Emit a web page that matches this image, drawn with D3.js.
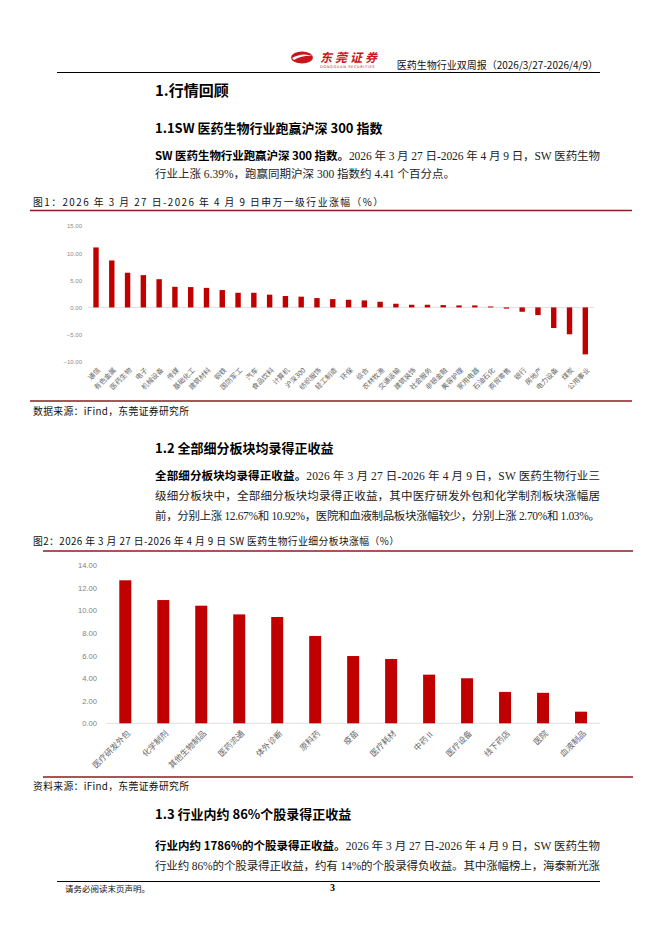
<!DOCTYPE html>
<html><head><meta charset="utf-8">
<script src="https://cdn.jsdelivr.net/npm/d3@7/dist/d3.min.js"></script>
<style>body{margin:0;background:#fff}svg{display:block}</style>
</head><body>
<svg id="page" width="662" height="936"></svg>
<script>
// ---------- data ----------
const industries = ["通信","有色金属","医药生物","电子","机械设备","传媒","基础化工","建筑材料","钢铁","国防军工","汽车","食品饮料","计算机","沪深300","纺织服饰","轻工制造","环保","综合","农林牧渔","交通运输","建筑装饰","社会服务","非银金融","美容护理","家用电器","石油石化","商贸零售","银行","房地产","电力设备","煤炭","公用事业"];
const industryChanges = [11.05,8.65,6.39,5.95,5.2,3.8,3.75,3.6,3.2,2.7,2.7,2.35,2.1,1.98,1.72,1.53,1.41,1.29,1.04,0.68,0.49,0.49,0.43,0.37,0.37,0.18,-0.22,-0.8,-1.41,-3.8,-4.95,-8.65];
const yTicks1 = [15,10,5,0,-5,-10];

const segments = ["医疗研发外包","化学制剂","其他生物制品","医药流通","体外诊断","原料药","疫苗","医疗耗材","中药Ⅱ","医疗设备","线下药店","医院","血液制品"];
const segmentChanges = [12.67,10.92,10.42,9.65,9.42,7.74,5.96,5.70,4.31,3.99,2.78,2.70,1.03];
const yTicks2 = [0,2,4,6,8,10,12,14];

const svg = d3.select("#page");
const SANS = "'Noto Sans CJK SC','Noto Sans',sans-serif";
const SERIF = "'Liberation Serif','Noto Sans CJK SC',serif";
const DARKRED = "#8c1c20";
const BAR = "#c00000";

// ---------- header ----------
const logo = svg.append("g");
logo.append("ellipse").attr("cx",302).attr("cy",57.5).attr("rx",11).attr("ry",6).attr("fill","#c8161d");
logo.append("path").attr("d","M292,58 Q302,52 313,56 Q303,55 294,60 Z").attr("fill","#fff");
logo.append("text").attr("x",320).attr("y",62).text("东莞证券")
  .attr("font-family",SANS).attr("font-weight",700).attr("font-size",12).attr("font-style","italic")
  .attr("letter-spacing",3).attr("fill","#c8161d");
logo.append("text").attr("x",320).attr("y",68).text("DONGGUAN SECURITIES")
  .attr("font-family","'DejaVu Sans'").attr("font-size",3.6).attr("letter-spacing",0.6).attr("fill","#c8161d");
svg.append("text").attr("x",598).attr("y",69).attr("text-anchor","end")
  .text("医药生物行业双周报（2026/3/27-2026/4/9）")
  .attr("font-family",SANS).attr("font-size",10).attr("fill","#111");
svg.append("line").attr("x1",57).attr("x2",600).attr("y1",72.5).attr("y2",72.5).attr("stroke","#000").attr("stroke-width",1);

// ---------- text helpers ----------
function fit(t,n,target){
  if(!target) return;
  const w = t.node().getComputedTextLength();
  t.attr("letter-spacing",(target-w)/(n-1));
}
function heading(x,y,t,size){
  svg.append("text").attr("x",x).attr("y",y).text(t)
    .attr("font-family",SANS).attr("font-weight",700).attr("font-size",size).attr("fill","#000");
}
function para(x,y,parts,target){
  const t = svg.append("text").attr("x",x).attr("y",y).attr("font-size",11.5).attr("fill","#222");
  let n=0;
  parts.forEach(p=>{
    t.append("tspan").text(p[0])
      .attr("font-family",p[1]?SANS:SERIF)
      .attr("font-weight",p[1]?700:400)
      .attr("fill",p[1]?"#000":"#222");
    n += [...p[0]].length;
  });
  fit(t,n,target);
}
function small(x,y,s,target){
  const t = svg.append("text").attr("x",x).attr("y",y).text(s)
    .attr("font-family",SANS).attr("font-size",9.8).attr("fill","#111");
  fit(t,[...s].length,target);
}

heading(155,96,"1.行情回顾",15);
heading(155,133,"1.1SW 医药生物行业跑赢沪深 300 指数",13);
para(155,160,[["SW 医药生物行业跑赢沪深 300 指数。",true],["2026 年 3 月 27 日-2026 年 4 月 9 日，SW 医药生物",false]],445);
para(155,178,[["行业上涨 6.39%，跑赢同期沪深 300 指数约 4.41 个百分点。",false]]);

small(33,206,"图1：2026 年 3 月 27 日-2026 年 4 月 9 日申万一级行业涨幅（%）",350);
svg.append("line").attr("x1",30).attr("x2",632).attr("y1",210.5).attr("y2",210.5).attr("stroke",DARKRED).attr("stroke-width",1.5);

// ---------- chart 1 ----------
const y1 = d3.scaleLinear().domain([-10,15]).range([361.7,226]);
const x1 = d3.scalePoint().domain(industries).range([96,585.3]);
const g1 = svg.append("g");
g1.append("line").attr("x1",88).attr("x2",594).attr("y1",y1(0)).attr("y2",y1(0)).attr("stroke","#e0d6d6").attr("stroke-width",0.8);
const ax1 = g1.append("g").attr("transform","translate(84,0)")
  .call(d3.axisLeft(y1).tickValues(yTicks1).tickFormat(d3.format(".2f")).tickSize(0).tickPadding(2));
ax1.select(".domain").remove();
ax1.selectAll("text").attr("font-family","'Liberation Sans',sans-serif").attr("font-size",6).attr("fill","#8a8a8a");
g1.selectAll("rect.bar").data(industries).join("rect").attr("class","bar")
  .attr("x",d=>x1(d)-2.7).attr("width",5.4)
  .attr("y",(d,i)=>y1(Math.max(0,industryChanges[i])))
  .attr("height",(d,i)=>Math.abs(y1(industryChanges[i])-y1(0)))
  .attr("fill",BAR);
const xa1 = g1.append("g").attr("transform","translate(0,366)").call(d3.axisBottom(x1).tickSize(0).tickPadding(0));
xa1.select(".domain").remove();
xa1.selectAll("text").attr("font-family",SANS).attr("font-size",6.9).attr("fill","#666")
  .attr("text-anchor","end").attr("dy","0.35em").attr("y",0)
  .attr("transform","translate(2.5,3) rotate(-45)");

svg.append("line").attr("x1",30).attr("x2",632).attr("y1",401).attr("y2",401).attr("stroke",DARKRED).attr("stroke-width",1.5);
small(33,415,"数据来源：iFind，东莞证券研究所",156);

heading(155,453,"1.2 全部细分板块均录得正收益",13);
para(155,480,[["全部细分板块均录得正收益。",true],["2026 年 3 月 27 日-2026 年 4 月 9 日，SW 医药生物行业三",false]],445);
para(155,500,[["级细分板块中，全部细分板块均录得正收益，其中医疗研发外包和化学制剂板块涨幅居",false]],445);
para(155,520,[["前，分别上涨 12.67%和 10.92%，医院和血液制品板块涨幅较少，分别上涨 2.70%和 1.03%。",false]],445);

small(33,545,"图2：2026 年 3 月 27 日-2026 年 4 月 9 日 SW 医药生物行业细分板块涨幅（%）",366);
svg.append("line").attr("x1",43).attr("x2",633).attr("y1",551).attr("y2",551).attr("stroke",DARKRED).attr("stroke-width",1.5);

// ---------- chart 2 ----------
const y2 = d3.scaleLinear().domain([0,14]).range([723.3,565.3]);
const x2 = d3.scalePoint().domain(segments).range([125.3,581]);
const g2 = svg.append("g");
g2.append("line").attr("x1",106).attr("x2",600).attr("y1",y2(0)).attr("y2",y2(0)).attr("stroke","#d9d9d9").attr("stroke-width",0.8);
const ax2 = g2.append("g").attr("transform","translate(99,0)")
  .call(d3.axisLeft(y2).tickValues(yTicks2).tickFormat(d3.format(".2f")).tickSize(0).tickPadding(2));
ax2.select(".domain").remove();
ax2.selectAll("text").attr("font-family","'Liberation Sans',sans-serif").attr("font-size",7.6).attr("fill","#7f7f7f");
g2.selectAll("rect.bar").data(segments).join("rect").attr("class","bar")
  .attr("x",d=>x2(d)-6).attr("width",12)
  .attr("y",(d,i)=>y2(segmentChanges[i]))
  .attr("height",(d,i)=>y2(0)-y2(segmentChanges[i]))
  .attr("fill",BAR);
const xa2 = g2.append("g").attr("transform","translate(0,729)").call(d3.axisBottom(x2).tickSize(0).tickPadding(0));
xa2.select(".domain").remove();
xa2.selectAll("text").attr("font-family",SANS).attr("font-size",8.2).attr("fill","#666")
  .attr("text-anchor","end").attr("dy","0.35em").attr("y",0)
  .attr("transform","translate(3,3) rotate(-45)");

svg.append("line").attr("x1",43).attr("x2",633).attr("y1",777).attr("y2",777).attr("stroke",DARKRED).attr("stroke-width",1.5);
small(33,790,"资料来源：iFind，东莞证券研究所",156);

heading(155,819,"1.3 行业内约 86%个股录得正收益",13);
para(155,850,[["行业内约 1786%的个股录得正收益。",true],["2026 年 3 月 27 日-2026 年 4 月 9 日，SW 医药生物",false]],445);
para(155,870,[["行业约 86%的个股录得正收益，约有 14%的个股录得负收益。其中涨幅榜上，海泰新光涨",false]],445);

// ---------- footer ----------
svg.append("line").attr("x1",57).attr("x2",600).attr("y1",881.5).attr("y2",881.5).attr("stroke","#000").attr("stroke-width",1.2);
svg.append("text").attr("x",65).attr("y",892).text("请务必阅读末页声明。")
  .attr("font-family",SANS).attr("font-size",8.5).attr("fill","#111");
svg.append("text").attr("x",330).attr("y",891).text("3")
  .attr("font-family","'Liberation Serif',serif").attr("font-weight",700).attr("font-size",10).attr("fill","#000");
</script>
</body></html>
